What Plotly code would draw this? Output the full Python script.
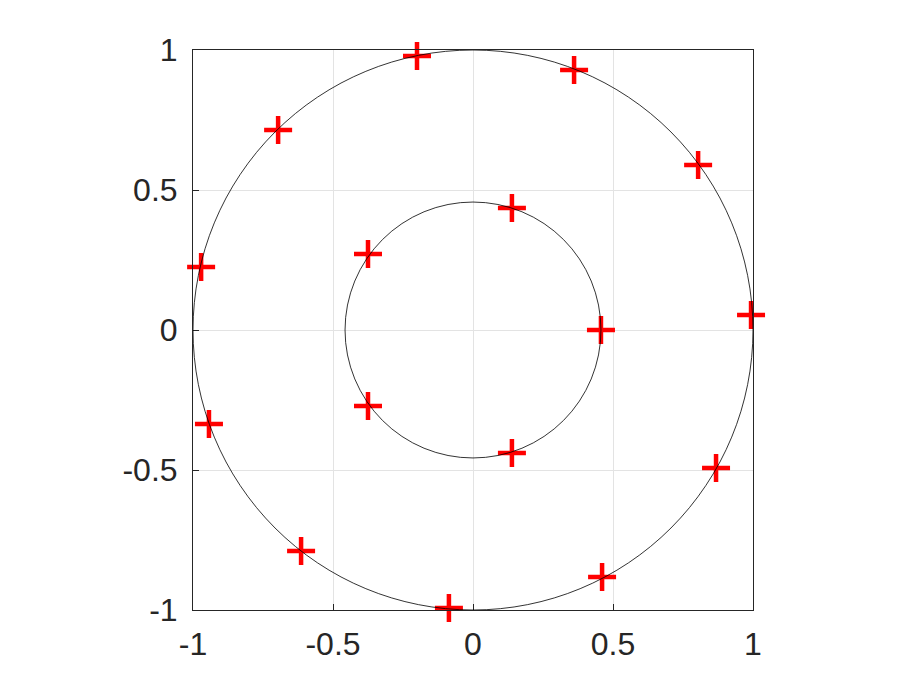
import plotly.graph_objects as go

# red "+" markers
outer_x = [-0.200, 0.361, 0.804, 0.993, 0.868, 0.461, -0.086, -0.614, -0.943, -0.971, -0.696]
outer_y = [0.979, 0.929, 0.589, 0.054, -0.493, -0.882, -0.993, -0.789, -0.336, 0.225, 0.714]
inner_x = [0.457, 0.139, -0.375, -0.375, 0.139]
inner_y = [0.000, 0.436, 0.271, -0.271, -0.439]

# circle radii (centred on origin)
radii = [1.0, 0.457]

tick_vals = [-1, -0.5, 0, 0.5, 1]
tick_text = ["-1", "-0.5", "0", "0.5", "1"]

fig = go.Figure()
for r in radii:
    fig.add_shape(type="circle", xref="x", yref="y", x0=-r, y0=-r, x1=r, y1=r,
                  line=dict(color="black", width=0.8), layer="above")

fig.add_trace(go.Scatter(x=outer_x + inner_x, y=outer_y + inner_y, mode="markers",
                         marker=dict(symbol="cross-thin", size=20, color="red",
                                     line=dict(color="red", width=4.5)),
                         cliponaxis=False, showlegend=False))

axis = dict(range=[-1, 1], tickvals=tick_vals, ticktext=tick_text,
            showgrid=True, gridcolor="#e3e3e3", gridwidth=1,
            zeroline=False, showline=True, linecolor="#262626", linewidth=1,
            mirror=True, ticks="inside", ticklen=6, tickcolor="#262626",
            automargin=False,
            tickfont=dict(family="Liberation Sans, Arial", size=32, color="#262626"))

# page body adds an 8px offset, so margins are shifted by that
fig.update_layout(width=913, height=685, plot_bgcolor="white", paper_bgcolor="white",
                  margin=dict(l=185, r=168, t=42, b=83),
                  xaxis=dict(axis, ticklabelstandoff=6),
                  yaxis=dict(axis, ticklabelstandoff=8, scaleanchor="x", scaleratio=1))

fig.write_html("out.html")
